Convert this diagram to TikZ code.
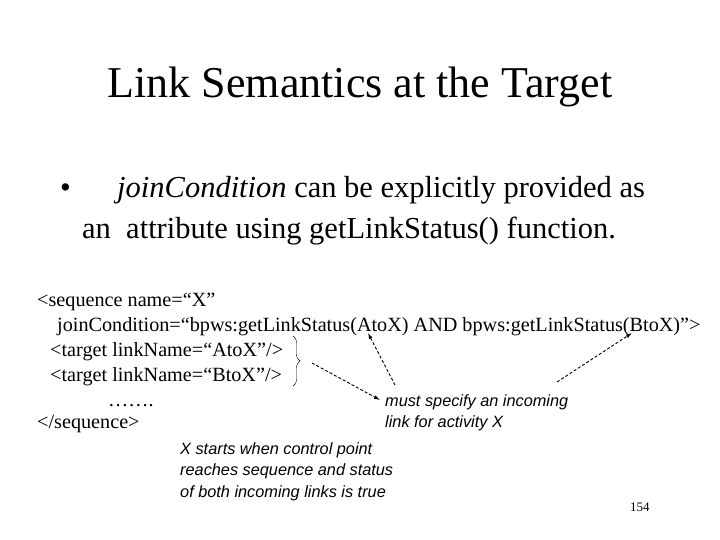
\documentclass[tikz,border=0pt]{standalone}
\usepackage{fontspec}
\setmainfont{Liberation Serif}
\newfontfamily\callfont{Liberation Sans}
\usetikzlibrary{arrows.meta,decorations.pathreplacing}
\begin{document}
\begin{tikzpicture}[x=1pt,y=-1pt,
  txt/.style={anchor=base west,inner sep=0pt},
  code/.style={txt,font=\fontsize{20.2}{22}\selectfont},
  call/.style={txt,font=\callfont\itshape\fontsize{16.3}{18}\selectfont},
  darr/.style={densely dashed,line width=0.9pt,-{Latex[length=6pt,width=4pt]}}]
\useasboundingbox (0,0) rectangle (720,540);
\node[anchor=base,inner sep=0pt,font=\fontsize{44}{48}\selectfont] (title) at (360,98) {Link Semantics at the Target};
\node[txt,font=\fontsize{30.5}{33}\selectfont] (bul) at (60,197) {\textbullet};
\node[txt,font=\fontsize{30.5}{33}\selectfont] (b1) at (117,197) {\textit{joinCondition} can be explicitly provided as};
\node[txt,font=\fontsize{30.5}{33}\selectfont] (b2) at (82,238) {an\ \ attribute using getLinkStatus() function.};
\node[code] (c1) at (37,306) {<sequence name=“X”};
\node[code] (c2) at (57,331) {joinCondition=“bpws:getLinkStatus(AtoX) AND bpws:getLinkStatus(BtoX)”>};
\node[code] (c3) at (50,356) {<target linkName=“AtoX”/>};
\node[code] (c4) at (50,381) {<target linkName=“BtoX”/>};
\node[code] (c5) at (108,406) {…….};
\node[code] (c6) at (37,428) {</sequence>};
\draw[decorate,decoration={brace,amplitude=7pt}] (293,336) -- (293,386);
\coordinate (brtip) at (312,363);
\node[call] (m1) at (385,406) {must specify an incoming};
\node[call] (m2) at (385,427) {link for activity X};
\node[call] (x1) at (180,454) {X starts when control point};
\node[call] (x2) at (180,475) {reaches sequence and status};
\node[call] (x3) at (180,497) {of both incoming links is true};
\node[txt,font=\fontsize{13}{14}\selectfont] (pg) at (630,511) {154};
\coordinate (a1s) at (395,385); \coordinate (a1e) at (368,333);
\coordinate (a2s) at (557,382); \coordinate (a2e) at (632,333);
\draw[darr] (brtip) -- (380,400);
\draw[darr] (a1s) -- (a1e);
\draw[darr] (a2s) -- (a2e);
\end{tikzpicture}
\end{document}
